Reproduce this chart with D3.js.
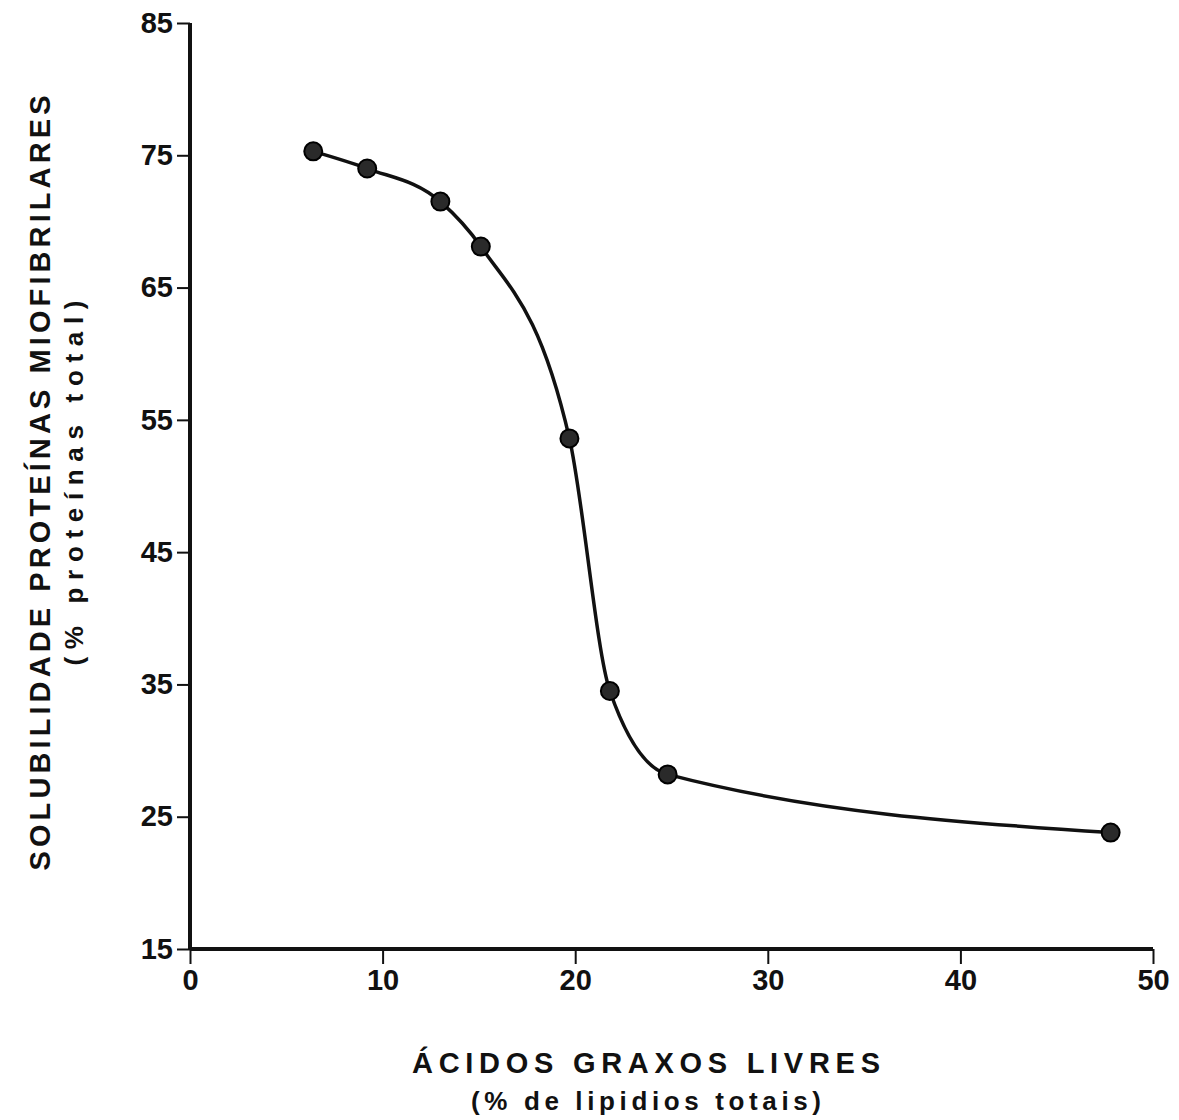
<!DOCTYPE html>
<html><head><meta charset="utf-8">
<script src="https://cdn.jsdelivr.net/npm/d3@7"></script>
<style>html,body{margin:0;padding:0;background:#fff;}</style>
</head><body>
<svg id="chart" width="1179" height="1120"></svg>
<script>
const xValues = [6.4, 9.2, 13.0, 15.1, 19.7, 21.8, 24.8, 47.8];
const yValues = [75.3, 74.0, 71.5, 68.1, 53.6, 34.5, 28.2, 23.8];
const xTicks = [0, 10, 20, 30, 40, 50];
const yTicks = [15, 25, 35, 45, 55, 65, 75, 85];
const yTitle = "SOLUBILIDADE  PROTEÍNAS  MIOFIBRILARES";
const ySub = "(% proteínas total)";
const xTitle = "ÁCIDOS  GRAXOS  LIVRES";
const xSub = "(% de lipidios totais)";

const svg = d3.select("#chart");
const font = "'Liberation Sans', Arial, sans-serif";
const x = d3.scaleLinear().domain([0, 50]).range([190, 1153]);
const y = d3.scaleLinear().domain([15, 85]).range([949, 23]);

// axes
const gx = svg.append("g").attr("transform", "translate(0,949)")
  .call(d3.axisBottom(x).tickValues(xTicks).tickSize(15).tickPadding(5).tickFormat(d3.format("d")));
const gy = svg.append("g").attr("transform", "translate(190,0)")
  .call(d3.axisLeft(y).tickValues(yTicks).tickSize(13).tickPadding(4).tickFormat(d3.format("d")));
[gx, gy].forEach(g => {
  g.select(".domain").attr("stroke", "#111").attr("stroke-width", 4).attr("d",
    g === gx ? `M${x(0)},0H${x(50)}` : `M0,${y(85)}V${y(15)}`);
  g.selectAll(".tick line").attr("stroke", "#111").attr("stroke-width", 2);
  g.selectAll(".tick text").attr("fill", "#111").style("font-family", font)
    .style("font-size", "29px").style("font-weight", "bold");
});

// curve
const pts = xValues.map((v, i) => [v, yValues[i]]);
const line = d3.line().x(d => x(d[0])).y(d => y(d[1])).curve(d3.curveMonotoneX);
svg.append("path").datum(pts).attr("d", line).attr("fill", "none")
  .attr("stroke", "#111").attr("stroke-width", 3.5);
svg.append("g").selectAll("circle").data(pts).join("circle")
  .attr("cx", d => x(d[0])).attr("cy", d => y(d[1])).attr("r", 9)
  .attr("fill", "#2a2a2a").attr("stroke", "#000").attr("stroke-width", 2);

// titles
const t = svg.append("g").style("font-family", font).attr("fill", "#111");
t.append("text").attr("transform", "translate(50,483) rotate(-90)").attr("text-anchor", "middle")
  .attr("textLength", 775).attr("lengthAdjust", "spacing")
  .style("font-size", "29px").style("font-weight", "bold").text(yTitle);
t.append("text").attr("transform", "translate(83,483) rotate(-90)").attr("text-anchor", "middle")
  .attr("textLength", 365).attr("lengthAdjust", "spacing")
  .style("font-size", "26px").style("font-weight", "bold").text(ySub);
t.append("text").attr("x", 646).attr("y", 1073).attr("text-anchor", "middle")
  .attr("textLength", 468).attr("lengthAdjust", "spacing")
  .style("font-size", "29px").style("font-weight", "bold").text(xTitle);
t.append("text").attr("x", 646).attr("y", 1110).attr("text-anchor", "middle")
  .attr("textLength", 350).attr("lengthAdjust", "spacing")
  .style("font-size", "26px").style("font-weight", "bold").text(xSub);
</script>
</body></html>
